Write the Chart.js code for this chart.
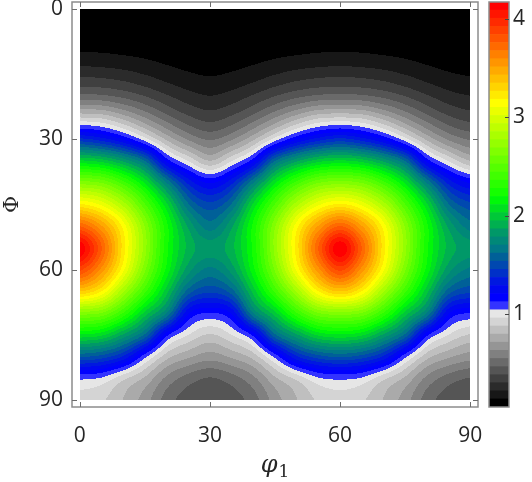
<!DOCTYPE html>
<html>
<head>
<meta charset="utf-8">
<script src="https://cdn.jsdelivr.net/npm/chart.js@4.4.1/dist/chart.umd.min.js"></script>
<style>
  body { margin: 0; background: #fff; }
  #wrap { position: relative; width: 532px; height: 482px; }
  #odf { position: absolute; left: 0; top: 0; }
  #cbar { position: absolute; left: 482px; top: 0; }
</style>
</head>
<body>
<div id="wrap">
  <canvas id="odf" width="482" height="482"></canvas>
  <canvas id="cbar" width="50" height="482"></canvas>
</div>
<script>
// ODF section (phi1 x Phi), intensities on a 5 degree grid
const phi1Ticks = [0, 30, 60, 90];
const PhiTicks = [0, 30, 60, 90];
const phi1Grid = [0, 5, 10, 15, 20, 25, 30, 35, 40, 45, 50, 55, 60, 65, 70, 75, 80, 85, 90];
const PhiGrid = [0, 5, 10, 15, 20, 25, 30, 35, 40, 45, 50, 55, 60, 65, 70, 75, 80, 85, 90];

// one row per Phi value, one column per phi1 value
const density = [
  [0.06,0.06,0.06,0.06,0.06,0.06,0.06,0.06,0.06,0.06,0.06,0.06,0.06,0.06,0.06,0.06,0.06,0.06,0.06],
  [0.08,0.08,0.08,0.07,0.07,0.07,0.07,0.07,0.07,0.07,0.08,0.08,0.08,0.08,0.08,0.07,0.07,0.07,0.07],
  [0.14,0.135,0.125,0.113,0.10,0.092,0.09,0.092,0.10,0.113,0.125,0.135,0.14,0.135,0.125,0.113,0.10,0.092,0.09],
  [0.28,0.27,0.25,0.215,0.175,0.145,0.13,0.145,0.175,0.215,0.25,0.27,0.28,0.27,0.25,0.215,0.175,0.145,0.13],
  [0.49,0.48,0.44,0.38,0.31,0.25,0.22,0.25,0.31,0.38,0.44,0.48,0.49,0.48,0.44,0.38,0.31,0.25,0.22],
  [0.88,0.86,0.76,0.63,0.50,0.40,0.35,0.40,0.50,0.63,0.76,0.86,0.88,0.86,0.76,0.63,0.50,0.40,0.35],
  [1.40,1.33,1.20,1.00,0.78,0.62,0.54,0.62,0.78,1.00,1.20,1.33,1.40,1.33,1.20,1.00,0.78,0.62,0.54],
  [2.05,2.00,1.85,1.62,1.18,0.96,0.80,0.96,1.18,1.62,1.85,2.00,2.05,2.00,1.85,1.62,1.18,0.96,0.80],
  [2.65,2.60,2.40,2.10,1.70,1.35,1.20,1.35,1.70,2.10,2.40,2.60,2.65,2.60,2.40,2.10,1.70,1.35,1.20],
  [3.20,3.08,2.82,2.45,2.05,1.63,1.48,1.63,2.05,2.45,2.82,3.08,3.20,3.08,2.82,2.45,2.05,1.63,1.48],
  [3.76,3.52,3.15,2.68,2.22,1.85,1.66,1.85,2.22,2.68,3.15,3.52,3.76,3.52,3.15,2.68,2.22,1.85,1.66],
  [4.15,3.76,3.22,2.72,2.22,1.92,1.82,1.92,2.22,2.72,3.22,3.76,4.15,3.76,3.22,2.72,2.22,1.92,1.82],
  [3.86,3.56,3.12,2.62,2.17,1.82,1.68,1.82,2.17,2.62,3.12,3.56,3.86,3.56,3.12,2.62,2.17,1.82,1.68],
  [3.35,3.18,2.78,2.38,1.98,1.58,1.47,1.58,1.98,2.38,2.78,3.18,3.35,3.18,2.78,2.38,1.98,1.58,1.47],
  [2.65,2.60,2.35,2.00,1.70,1.22,1.12,1.22,1.70,2.00,2.35,2.60,2.65,2.60,2.35,2.00,1.70,1.22,1.12],
  [2.10,2.05,1.85,1.60,1.15,0.96,0.87,0.96,1.15,1.60,1.85,2.05,2.10,2.05,1.85,1.60,1.15,0.96,0.87],
  [1.55,1.50,1.36,1.07,0.83,0.73,0.67,0.73,0.83,1.07,1.36,1.50,1.55,1.50,1.36,1.07,0.83,0.73,0.67],
  [1.06,1.03,0.90,0.78,0.61,0.51,0.46,0.51,0.61,0.78,0.90,1.03,1.06,1.03,0.90,0.78,0.61,0.51,0.46],
  [0.93,0.89,0.79,0.67,0.51,0.42,0.39,0.42,0.51,0.67,0.79,0.89,0.93,0.89,0.79,0.67,0.51,0.42,0.39]
];

// colour bar: range and ticks
const colorTicks = [1, 2, 3, 4];
const colorMin = 0.054;
const colorMax = 4.17;

// contour bands, bottom to top (grey below 1, then blue -> green -> yellow -> red)
const bandColors = [
  '#000000', '#171717', '#2b2b2b', '#404040', '#555555', '#6a6a6a', '#808080', '#959595',
  '#aaaaaa', '#bfbfbf', '#d4d4d4', '#e6e6e6',
  '#3333ff', '#0000ff', '#0008f0', '#0018e0', '#0030c8', '#0048b0', '#006098', '#007888',
  '#008878', '#009868', '#00b050', '#00c838', '#00e020', '#00f808',
  '#15ff00', '#2aff00', '#40ff00', '#55ff00', '#6aff00', '#80ff00', '#95ff00', '#aaff00',
  '#bfff00', '#d4ff00', '#eaff00', '#ffff00',
  '#ffea00', '#ffd400', '#ffbf00', '#ffaa00', '#ff9500', '#ff8000', '#ff6a00', '#ff5500',
  '#ff4000', '#ff2a00', '#ff1500', '#ff0000'
];

const bandW = (colorMax - colorMin) / bandColors.length;
const bandRGB = bandColors.map(h => [parseInt(h.slice(1, 3), 16), parseInt(h.slice(3, 5), 16), parseInt(h.slice(5, 7), 16)]);
const axisGrey = '#8c8c8c';
const textColor = '#262626';

// catmull-rom between grid nodes, only used to paint the filled contours
function cr(p0, p1, p2, p3, t) {
  return 0.5 * (2 * p1 + (p2 - p0) * t + (2 * p0 - 5 * p1 + 4 * p2 - p3) * t * t + (3 * p1 - p0 - 3 * p2 + p3) * t * t * t);
}
function gridAt(r, c) {
  r = Math.max(0, Math.min(PhiGrid.length - 1, r));
  c = Math.max(0, Math.min(phi1Grid.length - 1, c));
  return density[r][c];
}
function sampleField(p1, P) {
  const sx = phi1Grid[1] - phi1Grid[0], sy = PhiGrid[1] - PhiGrid[0];
  const fx = (p1 - phi1Grid[0]) / sx, fy = (P - PhiGrid[0]) / sy;
  const c = Math.min(phi1Grid.length - 2, Math.max(0, Math.floor(fx)));
  const r = Math.min(PhiGrid.length - 2, Math.max(0, Math.floor(fy)));
  const tx = Math.max(0, Math.min(1, fx - c)), ty = Math.max(0, Math.min(1, fy - r));
  const rows = [];
  for (let k = -1; k <= 2; k++) {
    rows.push(cr(gridAt(r + k, c - 1), gridAt(r + k, c), gridAt(r + k, c + 1), gridAt(r + k, c + 2), tx));
  }
  return cr(rows[0], rows[1], rows[2], rows[3], ty);
}

const contourPlugin = {
  id: 'contour',
  beforeDatasetsDraw(chart) {
    const { ctx, scales: { x, y } } = chart;
    const x0 = x.getPixelForValue(phi1Grid[0]);
    const x1 = x.getPixelForValue(phi1Grid[phi1Grid.length - 1]);
    const y0 = y.getPixelForValue(PhiGrid[0]);
    const y1 = y.getPixelForValue(PhiGrid[PhiGrid.length - 1]);
    const w = Math.round(x1 - x0), h = Math.round(y1 - y0);
    const off = document.createElement('canvas');
    off.width = w; off.height = h;
    const octx = off.getContext('2d');
    const img = octx.createImageData(w, h);
    for (let py = 0; py < h; py++) {
      const P = y.getValueForPixel(y0 + (py + 0.5) * (y1 - y0) / h);
      for (let px = 0; px < w; px++) {
        const p1 = x.getValueForPixel(x0 + (px + 0.5) * (x1 - x0) / w);
        const v = sampleField(p1, P);
        let k = Math.floor((v - colorMin) / bandW);
        k = Math.max(0, Math.min(bandRGB.length - 1, k));
        const col = bandRGB[k];
        const i = (py * w + px) * 4;
        img.data[i] = col[0]; img.data[i + 1] = col[1]; img.data[i + 2] = col[2]; img.data[i + 3] = 255;
      }
    }
    octx.putImageData(img, 0, 0);
    ctx.save();
    ctx.imageSmoothingEnabled = false;
    ctx.drawImage(off, x0, y0, x1 - x0, y1 - y0);
    ctx.restore();
  }
};

function tickLine(ctx, xa, ya, xb, yb) {
  ctx.beginPath(); ctx.moveTo(xa, ya); ctx.lineTo(xb, yb); ctx.stroke();
}

// box, inward ticks and the phi_1 label with a real subscript
const framePlugin = {
  id: 'frame',
  afterDraw(chart) {
    const { ctx, chartArea: a, scales: { x, y } } = chart;
    ctx.save();
    ctx.strokeStyle = axisGrey;
    ctx.lineWidth = 1.5;
    ctx.strokeRect(a.left, a.top, a.right - a.left, a.bottom - a.top);
    ctx.lineWidth = 1;
    ctx.strokeStyle = '#6e6e6e';
    phi1Ticks.forEach(v => {
      const px = Math.round(x.getPixelForValue(v)) + 0.5;
      tickLine(ctx, px, a.bottom, px, a.bottom - 5);
      tickLine(ctx, px, a.top, px, a.top + 5);
    });
    PhiTicks.forEach(v => {
      const py = Math.round(y.getPixelForValue(v)) + 0.5;
      tickLine(ctx, a.left, py, a.left + 5, py);
      tickLine(ctx, a.right, py, a.right - 5, py);
    });

    const cx = (a.left + a.right) / 2;
    ctx.fillStyle = textColor;
    ctx.textBaseline = 'alphabetic';
    ctx.font = 'italic 24px "DejaVu Serif"';
    const wPhi = ctx.measureText('φ').width;
    ctx.font = '17px "DejaVu Serif"';
    const wOne = ctx.measureText('1').width;
    const start = cx - (wPhi + 1 + wOne) / 2;
    ctx.font = 'italic 24px "DejaVu Serif"';
    ctx.textAlign = 'left';
    ctx.fillText('φ', start, 472);
    ctx.font = '17px "DejaVu Serif"';
    ctx.fillText('1', start + wPhi + 1, 477);
    ctx.restore();
  }
};

const points = [];
PhiGrid.forEach((P, r) => {
  phi1Grid.forEach((p1, c) => points.push({ x: p1, y: P, v: density[r][c] }));
});

new Chart(document.getElementById('odf'), {
  type: 'scatter',
  data: { datasets: [{ data: points, pointRadius: 0, pointHoverRadius: 0 }] },
  options: {
    responsive: false,
    animation: false,
    events: [],
    layout: { padding: { top: 2, right: 4, left: 0, bottom: 0 } },
    plugins: { legend: { display: false }, tooltip: { enabled: false } },
    scales: {
      x: {
        type: 'linear', min: -1.8, max: 91.8,
        grid: { display: false, drawTicks: false },
        border: { display: false },
        afterBuildTicks: s => { s.ticks = phi1Ticks.map(v => ({ value: v })); },
        afterFit: s => { s.height = 75; s.paddingLeft = 0; s.paddingRight = 0; },
        ticks: { font: { family: 'Open Sans', size: 21 }, color: textColor, padding: 16, maxRotation: 0, autoSkip: false },
        title: { display: false }
      },
      y: {
        type: 'linear', reverse: true, min: -1.6, max: 91.6,
        grid: { display: false, drawTicks: false },
        border: { display: false },
        afterBuildTicks: s => { s.ticks = PhiTicks.map(v => ({ value: v })); },
        afterFit: s => { s.width = 72; s.paddingTop = 0; s.paddingBottom = 0; },
        ticks: { font: { family: 'Open Sans', size: 21 }, color: textColor, padding: 9, autoSkip: false },
        title: { display: true, text: 'Φ', color: textColor, font: { family: 'DejaVu Serif', size: 21 }, padding: { top: 0, bottom: 0 } }
      }
    }
  },
  plugins: [contourPlugin, framePlugin]
});

// colour bar as floating bars, one per contour band
const cbarFrame = {
  id: 'cbarFrame',
  afterDraw(chart) {
    const { ctx, chartArea: a, scales: { y } } = chart;
    ctx.save();
    ctx.strokeStyle = axisGrey;
    ctx.lineWidth = 1.5;
    ctx.strokeRect(a.left, a.top, a.right - a.left, a.bottom - a.top);
    ctx.strokeStyle = '#444';
    ctx.lineWidth = 1;
    colorTicks.forEach(v => {
      const py = Math.round(y.getPixelForValue(v)) + 0.5;
      tickLine(ctx, a.right, py, a.right - 4, py);
    });
    ctx.restore();
  }
};

new Chart(document.getElementById('cbar'), {
  type: 'bar',
  data: {
    labels: [''],
    datasets: bandColors.map((c, k) => ({
      data: [[colorMin + k * bandW, colorMin + (k + 1) * bandW]],
      backgroundColor: c,
      borderWidth: 0,
      barPercentage: 1,
      categoryPercentage: 1,
      grouped: false
    }))
  },
  options: {
    responsive: false,
    animation: false,
    events: [],
    layout: { padding: { left: 7, top: 2, bottom: 75, right: 0 } },
    plugins: { legend: { display: false }, tooltip: { enabled: false } },
    scales: {
      x: { display: false },
      y: {
        position: 'right', min: colorMin, max: colorMax,
        grid: { display: false, drawTicks: false },
        border: { display: false },
        afterBuildTicks: s => { s.ticks = colorTicks.map(v => ({ value: v })); },
        afterFit: s => { s.width = 23; s.paddingTop = 0; s.paddingBottom = 0; },
        ticks: { font: { family: 'Open Sans', size: 21 }, color: textColor, padding: 4 }
      }
    }
  },
  plugins: [cbarFrame]
});
</script>
</body>
</html>
